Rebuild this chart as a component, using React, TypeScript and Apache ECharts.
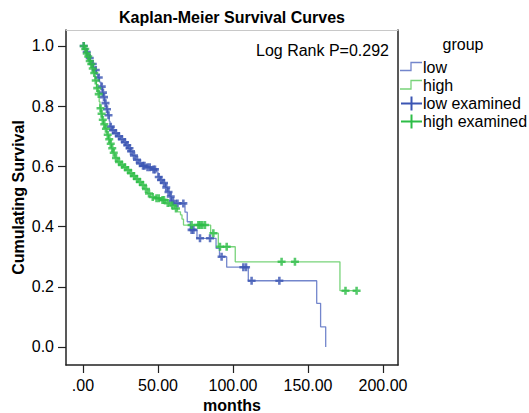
import React, { useEffect, useRef } from "react";
import * as echarts from "echarts";

// ---- data ----
const xTicks = [0, 50, 100, 150, 200];
const xTickLabels = [".00", "50.00", "100.00", "150.00", "200.00"];
const yTicks = [0, 0.2, 0.4, 0.6, 0.8, 1.0];
const yTickLabels = ["0.0", "0.2", "0.4", "0.6", "0.8", "1.0"];

// Kaplan-Meier step points: low group
const lowTimes = [0, 1, 2, 3, 4, 5, 6, 7, 8, 9, 10, 11, 12, 13, 13.6, 14.5, 15.5, 16.5, 17.5, 18, 19.5, 21, 23, 25, 27, 28.5, 30, 31.5, 33, 35, 37, 39, 42, 46, 49, 50, 51.5, 53, 55, 56.5, 58, 59, 60.5, 68, 69.5, 71.5, 76, 88.7, 91, 95.8, 110.2, 155.8, 158.4, 161.8];
const lowSurv = [1, 0.99, 0.98, 0.97, 0.96, 0.95, 0.94, 0.93, 0.92, 0.905, 0.895, 0.88, 0.865, 0.845, 0.83, 0.81, 0.79, 0.77, 0.75, 0.732, 0.72, 0.71, 0.7, 0.69, 0.68, 0.67, 0.66, 0.65, 0.636, 0.622, 0.61, 0.602, 0.597, 0.59, 0.582, 0.565, 0.555, 0.545, 0.53, 0.515, 0.5, 0.485, 0.477, 0.448, 0.416, 0.389, 0.361, 0.328, 0.3, 0.265, 0.22, 0.145, 0.067, 0.0];
const lowCensorTimes = [0.5, 2.5, 4.5, 6.5, 8.5, 10.5, 12.5, 13.3, 14, 15, 16, 17, 18.5, 20, 22, 24, 26, 28, 29.5, 31, 32, 34, 36, 38, 40, 41, 43, 44.5, 47, 48, 50.5, 52, 54, 55.5, 57, 58.5, 60, 63, 66.9, 72.4, 73.6, 78, 84.7, 92.4, 106.9, 108.7, 112.4, 130.9];

// Kaplan-Meier step points: high group
const highTimes = [0, 1, 2, 3, 4, 5, 6, 7, 8, 9, 10, 10.8, 11.3, 12, 12.8, 13.6, 14.7, 16, 17, 18, 19, 20, 21.3, 23, 25, 27, 29, 31, 33, 35, 37, 39, 41, 43, 45, 48, 52, 55, 58, 61, 63, 65, 66, 67, 85.1, 90.2, 101.5, 171.3, 182.4];
const highSurv = [1, 0.99, 0.975, 0.965, 0.95, 0.94, 0.925, 0.91, 0.885, 0.86, 0.84, 0.815, 0.793, 0.775, 0.755, 0.74, 0.725, 0.705, 0.69, 0.675, 0.66, 0.645, 0.628, 0.615, 0.605, 0.597, 0.588, 0.577, 0.568, 0.558, 0.548, 0.538, 0.525, 0.51, 0.498, 0.494, 0.488, 0.478, 0.47, 0.46, 0.449, 0.439, 0.425, 0.405, 0.378, 0.333, 0.283, 0.187, 0.187];
const highCensorTimes = [0.5, 1.5, 2.5, 3.5, 4.5, 5.5, 6.5, 7.5, 8.5, 9.5, 10.5, 11.7, 12.4, 13.2, 14.2, 15.3, 16.5, 17.5, 18.5, 19.5, 20.5, 22, 24, 26, 28, 30, 32, 34, 36, 38, 40, 42, 44, 46.5, 49, 50.5, 53, 54, 56.5, 59.5, 62, 72.4, 76.9, 78, 79.5, 81.3, 86.9, 91.3, 95.8, 132.4, 141.3, 175, 182.4];

const FONT = "'Liberation Sans', Arial, sans-serif";
const LOW_LINE = "#7386cc";
const LOW_MARK = "#3b55b3";
const HIGH_LINE = "#78d37a";
const HIGH_MARK = "#2dbd47";
const PLUS = "path://M-1.6,-5H1.6V-1.6H5V1.6H1.6V5H-1.6V1.6H-5V-1.6H-1.6Z";

function survAt(times: number[], surv: number[], t: number) {
  let s = surv[0];
  for (let i = 0; i < times.length; i++) {
    if (times[i] <= t) s = surv[i];
  }
  return s;
}

export default function App() {
  const ref = useRef<HTMLDivElement>(null);
  useEffect(() => {
    if (!ref.current) return;
    const chart = echarts.init(ref.current, null, { renderer: "svg" });
    const xMin = -11.33;
    const xMax = 210;
    const yMin = -0.0598;
    const yMax = 1.053;
    const lowLine = lowTimes.map((t, i) => [t, lowSurv[i]]);
    const highLine = highTimes.map((t, i) => [t, highSurv[i]]);
    const lowCens = lowCensorTimes.map((t) => [t, survAt(lowTimes, lowSurv, t)]);
    const highCens = highCensorTimes.map((t) => [t, survAt(highTimes, highSurv, t)]);

    const txt = (text: string, x: number, y: number, extra: any = {}) => ({
      type: "text",
      x,
      y,
      style: {
        text,
        font: `16px ${FONT}`,
        fill: "#000",
        textAlign: "left",
        textVerticalAlign: "middle",
        ...extra,
      },
    });

    chart.setOption({
      animation: false,
      backgroundColor: "#fff",
      grid: { left: 66, right: 131, top: 30, bottom: 48, containLabel: false, outerBoundsMode: "none" },
      xAxis: [
        {
          type: "value",
          min: xMin,
          max: xMax,
          position: "bottom",
          name: "months",
          nameLocation: "middle",
          nameGap: 32,
          nameMoveOverlap: false,
          nameTextStyle: { fontFamily: FONT, fontSize: 16, fontWeight: "bold", color: "#000" },
          axisLine: { show: true, onZero: false, lineStyle: { color: "#222", width: 1.5 } },
          axisTick: { show: true, customValues: xTicks, length: 8, lineStyle: { color: "#222", width: 1.2 } },
          axisLabel: {
            customValues: xTicks,
            margin: 12,
            fontFamily: FONT,
            fontSize: 16,
            color: "#000",
            formatter: (v: number) => xTickLabels[xTicks.indexOf(v)] ?? "",
          },
          splitLine: { show: false },
        },
        {
          type: "value",
          min: xMin,
          max: xMax,
          position: "top",
          axisLine: { show: true, onZero: false, lineStyle: { color: "#c8c8c8", width: 1 } },
          axisTick: { show: false },
          axisLabel: { show: false },
          splitLine: { show: false },
        },
      ],
      yAxis: [
        {
          type: "value",
          min: yMin,
          max: yMax,
          position: "left",
          name: "Cumulating Survival",
          nameLocation: "middle",
          nameGap: 40,
          nameMoveOverlap: false,
          nameTextStyle: { fontFamily: FONT, fontSize: 16, fontWeight: "bold", color: "#000" },
          axisLine: { show: true, onZero: false, lineStyle: { color: "#222", width: 1.5 } },
          axisTick: { show: true, customValues: yTicks, length: 8, lineStyle: { color: "#222", width: 1.2 } },
          axisLabel: {
            customValues: yTicks,
            margin: 12,
            fontFamily: FONT,
            fontSize: 16,
            color: "#000",
            formatter: (v: number) => {
              const i = yTicks.findIndex((t) => Math.abs(t - v) < 1e-6);
              return i >= 0 ? yTickLabels[i] : "";
            },
          },
          splitLine: { show: false },
        },
        {
          type: "value",
          min: yMin,
          max: yMax,
          position: "right",
          axisLine: { show: true, onZero: false, lineStyle: { color: "#222", width: 1.5 } },
          axisTick: { show: false },
          axisLabel: { show: false },
          splitLine: { show: false },
        },
      ],
      series: [
        {
          name: "low",
          type: "line",
          step: "end",
          data: lowLine,
          showSymbol: false,
          symbol: "none",
          lineStyle: { color: LOW_LINE, width: 1.3 },
          z: 2,
        },
        {
          name: "high",
          type: "line",
          step: "end",
          data: highLine,
          showSymbol: false,
          symbol: "none",
          lineStyle: { color: HIGH_LINE, width: 1.3 },
          z: 2,
        },
        {
          name: "low examined",
          type: "scatter",
          data: lowCens,
          symbol: PLUS,
          symbolSize: 8,
          itemStyle: { color: LOW_MARK },
          z: 3,
        },
        {
          name: "high examined",
          type: "scatter",
          data: highCens,
          symbol: PLUS,
          symbolSize: 8,
          itemStyle: { color: HIGH_MARK },
          z: 3,
        },
      ],
      graphic: [
        txt("Kaplan-Meier Survival Curves", 232, 17, { textAlign: "center", font: `bold 16px ${FONT}` }),
        txt("Log Rank P=0.292", 256, 50),
        txt("group", 463, 44, { textAlign: "center" }),
        {
          type: "polyline",
          shape: { points: [[400, 70.5], [411, 70.5], [411, 62.5], [422, 62.5]] },
          style: { stroke: LOW_LINE, lineWidth: 1.3, fill: null },
        },
        txt("low", 423, 67),
        {
          type: "polyline",
          shape: { points: [[400, 89], [411, 89], [411, 80.5], [422, 80.5]] },
          style: { stroke: HIGH_LINE, lineWidth: 1.3, fill: null },
        },
        txt("high", 423, 85),
        { type: "line", shape: { x1: 401, y1: 103.5, x2: 422, y2: 103.5 }, style: { stroke: LOW_MARK, lineWidth: 2 } },
        { type: "line", shape: { x1: 411.5, y1: 96.5, x2: 411.5, y2: 110.5 }, style: { stroke: LOW_MARK, lineWidth: 2 } },
        txt("low examined", 423, 103),
        { type: "line", shape: { x1: 401, y1: 121.5, x2: 422, y2: 121.5 }, style: { stroke: HIGH_MARK, lineWidth: 2 } },
        { type: "line", shape: { x1: 411.5, y1: 114.5, x2: 411.5, y2: 128.5 }, style: { stroke: HIGH_MARK, lineWidth: 2 } },
        txt("high examined", 423, 121),
      ],
    });
    return () => chart.dispose();
  }, []);
  return <div ref={ref} style={{ width: 529, height: 413, position: "absolute", left: 0, top: 0 }} />;
}
